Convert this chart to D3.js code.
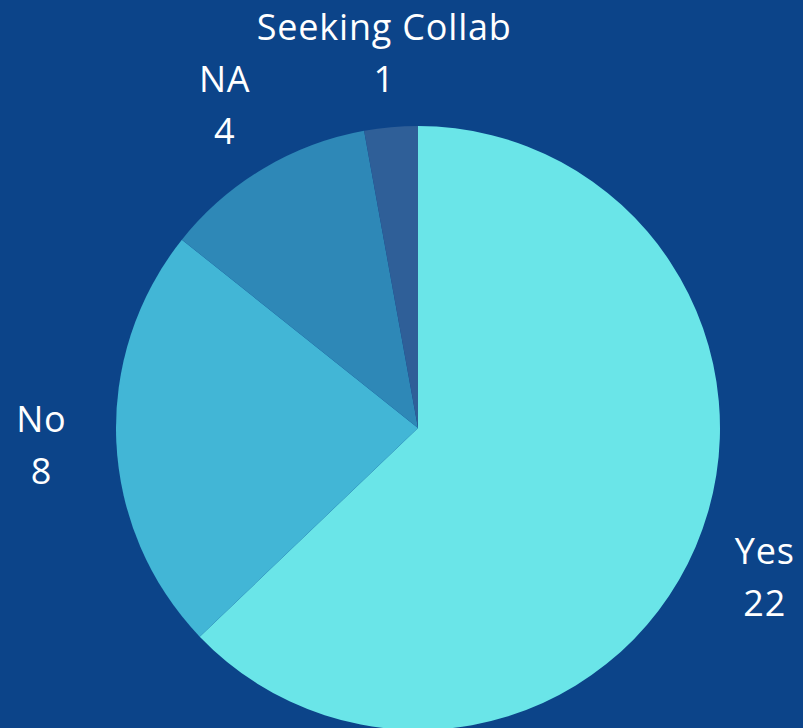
<!DOCTYPE html>
<html lang="en">
<head>
    <meta charset="UTF-8">
    <title>Pie chart</title>
    <script src="https://cdn.jsdelivr.net/npm/d3@7/dist/d3.min.js"></script>
    <style>
        body { margin: 0; background: #0c4489; overflow: hidden; }
    </style>
</head>
<body>
<script>
    // canvas size
    const width = 803;
    const height = 728;

    // data
    const categories = ['Yes', 'No', 'NA', 'Seeking Collab'];
    const values = [22, 8, 4, 1];
    const colors = ['#6ae5e8', '#42b6d6', '#2e88b7', '#2f5f98'];

    const cx = 418;
    const cy = 428;
    const radius = 302;
    const labelRadius = 377;

    let svg = d3.select('body')
        .append('svg')
        .attr('width', width)
        .attr('height', height);

    svg.append('rect')
        .attr('width', width)
        .attr('height', height)
        .attr('fill', '#0c4489');

    let data = categories.map((c, i) => ({ name: c, value: values[i], color: colors[i] }));

    let pie = d3.pie()
        .sort(null)
        .value(d => d.value);

    let arc = d3.arc()
        .innerRadius(0)
        .outerRadius(radius);

    // arc used only to position the labels outside the pie
    let labelArc = d3.arc()
        .innerRadius(labelRadius)
        .outerRadius(labelRadius);

    let g = svg.append('g')
        .attr('transform', `translate(${cx}, ${cy})`);

    let arcs = pie(data);

    g.selectAll('.slice')
        .data(arcs)
        .enter()
        .append('path')
        .attr('class', 'slice')
        .attr('d', arc)
        .attr('fill', d => d.data.color);

    // labels: name on first line, value on second
    let labels = g.selectAll('.label')
        .data(arcs)
        .enter()
        .append('text')
        .attr('class', 'label')
        .attr('transform', d => `translate(${labelArc.centroid(d)})`)
        .attr('text-anchor', 'middle')
        .attr('fill', '#ffffff')
        .style('font-family', '"Open Sans", "Noto Sans", sans-serif')
        .style('font-size', '36px')
        .style('letter-spacing', '0.8px');

    labels.append('tspan')
        .attr('x', 0)
        .attr('y', -26)
        .attr('dominant-baseline', 'central')
        .text(d => d.data.name);

    labels.append('tspan')
        .attr('x', 0)
        .attr('y', 26)
        .attr('dominant-baseline', 'central')
        .text(d => d.data.value);
</script>
</body>
</html>
